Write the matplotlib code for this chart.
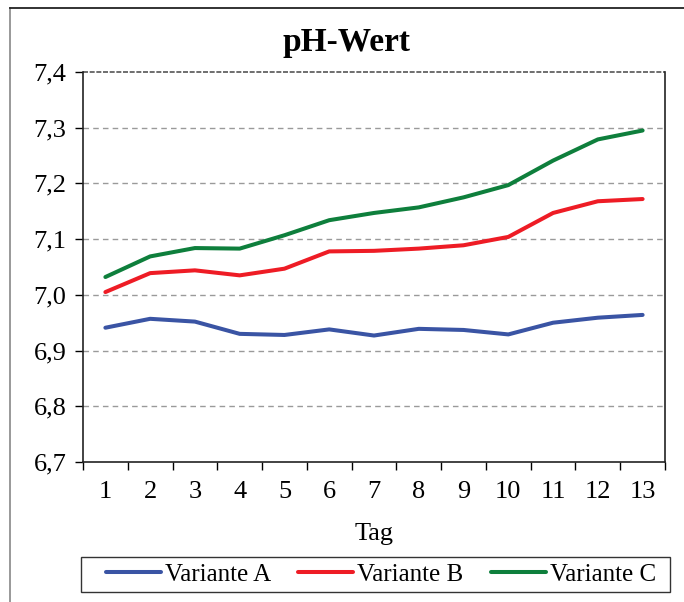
import numpy as np
import matplotlib
matplotlib.use('Agg')
import matplotlib.pyplot as plt
from matplotlib.ticker import FuncFormatter, FixedLocator
from matplotlib.lines import Line2D
from matplotlib.patches import Rectangle

plt.rcParams['font.family'] = ['Liberation Serif', 'DejaVu Serif']

tage = list(range(1, 14))
variante_a = [6.941, 6.957, 6.952, 6.930, 6.928, 6.938, 6.927, 6.939, 6.937, 6.929, 6.950, 6.959, 6.964]
variante_b = [7.005, 7.039, 7.044, 7.035, 7.047, 7.078, 7.079, 7.083, 7.089, 7.104, 7.147, 7.168, 7.172]
variante_c = [7.032, 7.069, 7.084, 7.083, 7.107, 7.134, 7.147, 7.157, 7.175, 7.197, 7.241, 7.279, 7.295]
y_ticks = [6.7, 6.8, 6.9, 7.0, 7.1, 7.2, 7.3, 7.4]

W, H = 684, 602
fig = plt.figure(figsize=(6.84, 6.02), dpi=100)
ax = fig.add_axes([83/W, 1 - 462/H, (665 - 83)/W, (462 - 72)/H])

ax.plot(tage, variante_a, color='#3A54A4', lw=2.9, label='Variante A', solid_capstyle='round')
ax.plot(tage, variante_b, color='#EE1C25', lw=2.9, label='Variante B', solid_capstyle='round')
ax.plot(tage, variante_c, color='#0E7F3C', lw=2.9, label='Variante C', solid_capstyle='round')

ax.set_xlim(0.5, 13.5)
ax.set_ylim(6.7, 7.4)
ax.set_yticks(y_ticks)
ax.yaxis.set_major_formatter(FuncFormatter(lambda v, p: f'{v:.1f}'.replace('.', ',')))
ax.set_xticks(tage)
ax.xaxis.set_minor_locator(FixedLocator(np.arange(0.5, 14, 1)))
ax.tick_params(axis='x', which='major', length=0, pad=14, labelsize=19)
ax.tick_params(axis='x', which='minor', length=6, width=1, direction='out')
ax.tick_params(axis='y', length=6, width=1, direction='out', pad=6, labelsize=19)

for yv in y_ticks[1:-1]:
    ax.axhline(yv, color='#9a9a9a', lw=1, ls=(0, (4, 3)), zorder=0)
ax.spines['top'].set_visible(False)
for s in ['left', 'bottom', 'right']:
    ax.spines[s].set_color('#222222')
    ax.spines[s].set_linewidth(1.2)
ax.axhline(7.4, color='#555555', lw=1.2, ls=(0, (3, 1)), clip_on=False)

fig.text(346/W, 1 - 42/H, 'pH-Wert', fontsize=24, fontweight='bold', ha='center', va='center')
ax.set_xlabel('Tag', fontsize=19, labelpad=14)

# legend box drawn separately, entries centred inside
fig.add_artist(Rectangle((81/W, 1 - 592/H), (670 - 81)/W, (592 - 557)/H, transform=fig.transFigure,
                         fill=False, edgecolor='#333333', lw=1))
handles, labels = ax.get_legend_handles_labels()
fig.legend(handles, labels, loc='center', bbox_to_anchor=(381/W, 1 - 574.5/H),
           ncol=3, fontsize=18, frameon=False, handlelength=2.2, handletextpad=0.15,
           columnspacing=1.1, borderpad=0, borderaxespad=0)

# outer frame lines
fig.add_artist(Line2D([10/W, 10/W], [0, 1 - 8/H], transform=fig.transFigure, color='#888888', lw=1.2))
fig.add_artist(Line2D([10/W, 1], [1 - 8/H, 1 - 8/H], transform=fig.transFigure, color='#222222', lw=1.3))

fig.savefig('out.png', dpi=100)
